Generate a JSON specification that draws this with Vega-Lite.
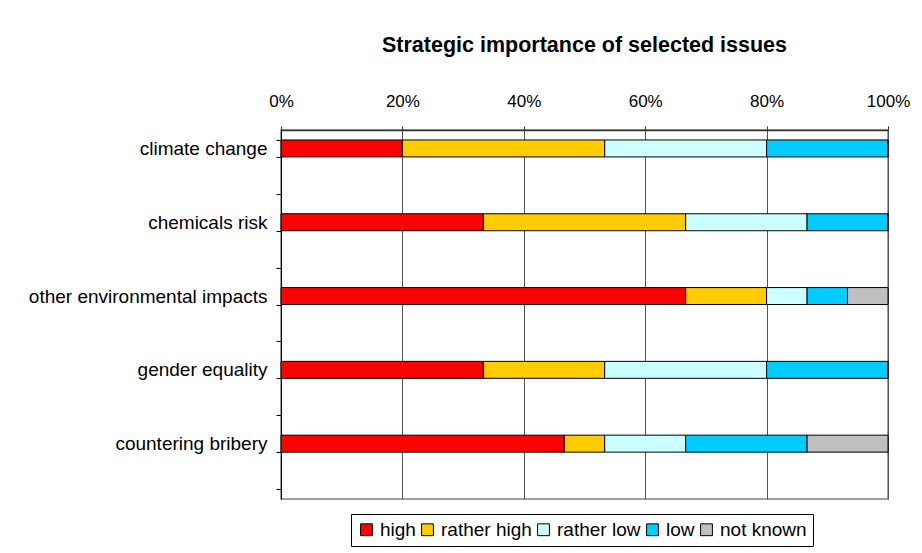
{
  "$schema": "https://vega.github.io/schema/vega-lite/v6.json",
  "autosize": {"type": "none"},
  "width": 607,
  "height": 369,
  "padding": {"left": 281, "top": 130, "right": 34, "bottom": 54},
  "background": "white",
  "title": {
    "text": "Strategic importance of selected issues",
    "font": "Liberation Sans",
    "fontSize": 21.5,
    "fontWeight": "bold",
    "color": "black",
    "anchor": "middle",
    "offset": 36
  },
  "data": {
    "values": [
      {"issue": "climate change", "level": "high", "rank": 1, "count": 3},
      {"issue": "climate change", "level": "rather high", "rank": 2, "count": 5},
      {"issue": "climate change", "level": "rather low", "rank": 3, "count": 4},
      {"issue": "climate change", "level": "low", "rank": 4, "count": 3},
      {"issue": "climate change", "level": "not known", "rank": 5, "count": 0},
      {"issue": "chemicals risk", "level": "high", "rank": 1, "count": 5},
      {"issue": "chemicals risk", "level": "rather high", "rank": 2, "count": 5},
      {"issue": "chemicals risk", "level": "rather low", "rank": 3, "count": 3},
      {"issue": "chemicals risk", "level": "low", "rank": 4, "count": 2},
      {"issue": "chemicals risk", "level": "not known", "rank": 5, "count": 0},
      {"issue": "other environmental impacts", "level": "high", "rank": 1, "count": 10},
      {"issue": "other environmental impacts", "level": "rather high", "rank": 2, "count": 2},
      {"issue": "other environmental impacts", "level": "rather low", "rank": 3, "count": 1},
      {"issue": "other environmental impacts", "level": "low", "rank": 4, "count": 1},
      {"issue": "other environmental impacts", "level": "not known", "rank": 5, "count": 1},
      {"issue": "gender equality", "level": "high", "rank": 1, "count": 5},
      {"issue": "gender equality", "level": "rather high", "rank": 2, "count": 3},
      {"issue": "gender equality", "level": "rather low", "rank": 3, "count": 4},
      {"issue": "gender equality", "level": "low", "rank": 4, "count": 3},
      {"issue": "gender equality", "level": "not known", "rank": 5, "count": 0},
      {"issue": "countering bribery", "level": "high", "rank": 1, "count": 7},
      {"issue": "countering bribery", "level": "rather high", "rank": 2, "count": 1},
      {"issue": "countering bribery", "level": "rather low", "rank": 3, "count": 2},
      {"issue": "countering bribery", "level": "low", "rank": 4, "count": 3},
      {"issue": "countering bribery", "level": "not known", "rank": 5, "count": 2}
    ]
  },
  "mark": {"type": "bar", "stroke": "black", "strokeWidth": 1},
  "encoding": {
    "y": {
      "field": "issue",
      "type": "nominal",
      "title": null,
      "scale": {
        "domain": ["climate change", " ", "chemicals risk", "  ", "other environmental impacts", "   ", "gender equality", "    ", "countering bribery", "     "],
        "paddingInner": 0.54,
        "paddingOuter": 0.27
      },
      "axis": {
        "tickBand": "extent",
        "domainColor": "black",
        "tickColor": "black",
        "tickSize": 5,
        "labelPadding": 9,
        "labelLimit": 400,
        "labelFont": "Liberation Sans",
        "labelFontSize": 19,
        "labelColor": "black",
        "grid": false
      }
    },
    "x": {
      "field": "count",
      "type": "quantitative",
      "stack": "normalize",
      "title": null,
      "scale": {"domain": [0, 1], "nice": false},
      "axis": {
        "orient": "top",
        "format": ".0%",
        "values": [0, 0.2, 0.4, 0.6, 0.8, 1],
        "grid": true,
        "gridColor": "#555555",
        "gridOpacity": 1,
        "domainColor": "#333333",
        "domainWidth": 1.5,
        "tickColor": "#333333",
        "tickSize": 4,
        "labelPadding": 16,
        "labelFont": "Liberation Sans",
        "labelFontSize": 17,
        "labelColor": "black",
        "labelFlush": false
      }
    },
    "order": {"field": "rank", "type": "quantitative"},
    "color": {
      "field": "level",
      "type": "nominal",
      "scale": {
        "domain": ["high", "rather high", "rather low", "low", "not known"],
        "range": ["#FF0000", "#FFCC00", "#CCFFFF", "#00CCFF", "#C0C0C0"]
      },
      "legend": {
        "title": null,
        "orient": "none",
        "legendX": 70,
        "legendY": 384,
        "direction": "horizontal",
        "columns": 5,
        "symbolType": "square",
        "symbolSize": 140,
        "symbolStrokeColor": "black",
        "symbolStrokeWidth": 1,
        "labelFont": "Liberation Sans",
        "labelFontSize": 19,
        "labelColor": "black",
        "labelOffset": 4,
        "columnPadding": 2,
        "padding": 6,
        "strokeColor": "black",
        "fillColor": "white"
      }
    }
  },
  "config": {
    "view": {"stroke": "#808080", "strokeWidth": 1.5}
  }
}
